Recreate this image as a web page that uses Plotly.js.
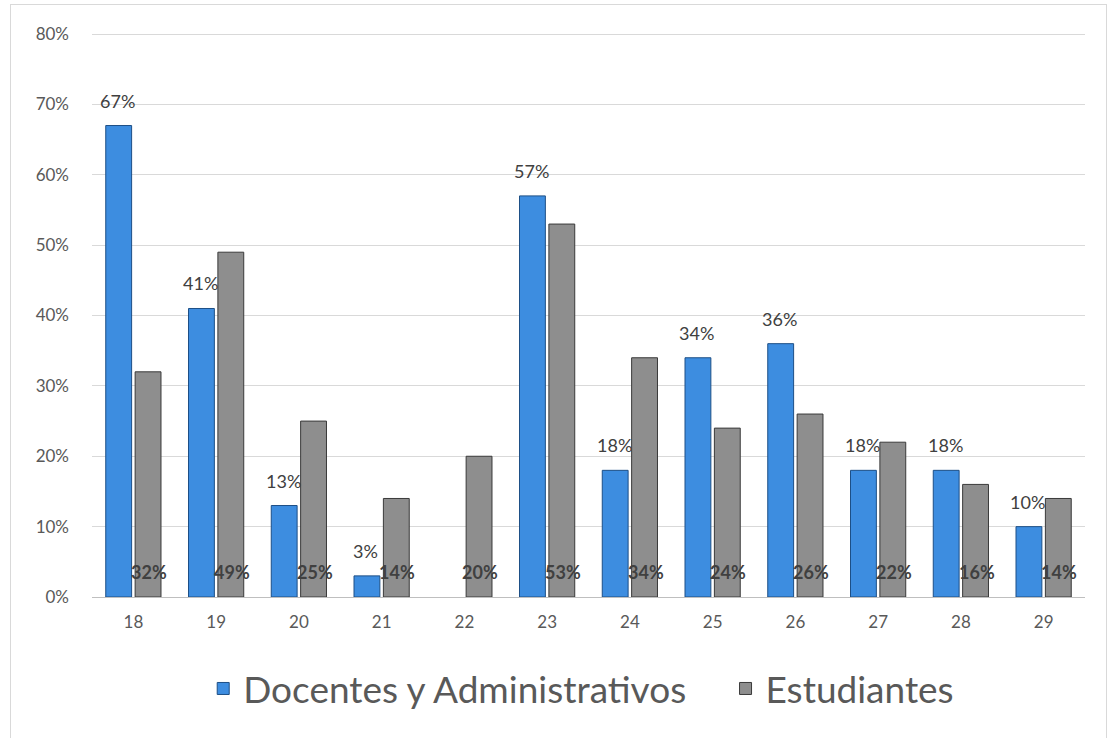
<!DOCTYPE html>
<html>
<head>
<meta charset="utf-8">
<script src="https://cdn.plot.ly/plotly-3.0.1.min.js"></script>
<style>
html,body{margin:0;padding:0;background:#fff;}
#wrap{position:relative;width:1120px;height:738px;overflow:hidden;}
#frame{position:absolute;left:10px;top:4px;width:1097px;height:760px;border:1px solid #d9d9d9;box-sizing:border-box;pointer-events:none;}
#chart{position:absolute;left:0;top:0;width:1120px;height:738px;}
</style>
</head>
<body>
<div id="wrap"><div id="chart"></div><div id="frame"></div></div>
<script>
const categories = [18,19,20,21,22,23,24,25,26,27,28,29];
const docentes = [67,41,13,3,null,57,18,34,36,18,18,10];
const estudiantes = [32,49,25,14,20,53,34,24,26,22,16,14];
const seriesNames = ['Docentes y Administrativos','Estudiantes'];
const yTickVals = [0,10,20,30,40,50,60,70,80];
const yTickText = ['0%','10%','20%','30%','40%','50%','60%','70%','80%'];

const off = 0.19;
const fontFam = 'Lato, "Open Sans", sans-serif';

const annotations = [];
categories.forEach((c,i)=>{
  if (docentes[i] !== null) {
    annotations.push({x:c-off, y:docentes[i], xref:'x', yref:'y', text:docentes[i]+'%',
      showarrow:false, yshift:25, font:{family:fontFam,size:18,color:'#404040'}});
  }
  annotations.push({x:c+off, y:0, xref:'x', yref:'y', text:'<b>'+estudiantes[i]+'%</b>',
    showarrow:false, yshift:25, font:{family:fontFam,size:18,color:'#404040'}});
});

const traces = [
  {type:'bar', x:categories, y:docentes, name:seriesNames[0], legend:'legend',
   marker:{color:'#3d8de0', line:{color:'#1d4f86', width:1}}, hoverinfo:'none'},
  {type:'bar', x:categories, y:estudiantes, name:seriesNames[1], legend:'legend2',
   marker:{color:'#8e8e8e', line:{color:'#3a3a3a', width:1}}, hoverinfo:'none'}
];

const legFont = {size:37,color:'#595959',family:fontFam};
const layout = {
  width:1120, height:738,
  margin:{l:92, r:35, t:33, b:141},
  paper_bgcolor:'#ffffff', plot_bgcolor:'#ffffff',
  barmode:'group', bargap:0.29, bargroupgap:0.12,
  font:{family:fontFam, color:'#595959'},
  xaxis:{range:[17.5,29.5], tickvals:categories, ticktext:categories.map(String),
    showgrid:false, zeroline:false, showline:true, linecolor:'#bfbfbf', linewidth:1,
    ticks:'', tickfont:{size:17,color:'#595959'}, ticklabelstandoff:10},
  yaxis:{range:[0,80.15], tickvals:yTickVals, ticktext:yTickText, showgrid:true, gridcolor:'#d9d9d9',
    zeroline:false, showline:false, ticks:'', tickfont:{size:17,color:'#595959'}, ticklabelstandoff:22},
  legend:{orientation:'h', x:0.112, xanchor:'left', y:-0.163, yanchor:'middle',
    font:legFont, itemwidth:30},
  legend2:{orientation:'h', x:0.638, xanchor:'left', y:-0.163, yanchor:'middle',
    font:legFont, itemwidth:30},
  showlegend:true,
  annotations:annotations
};

Plotly.newPlot('chart', traces, layout, {displayModeBar:false, staticPlot:true});
</script>
</body>
</html>
